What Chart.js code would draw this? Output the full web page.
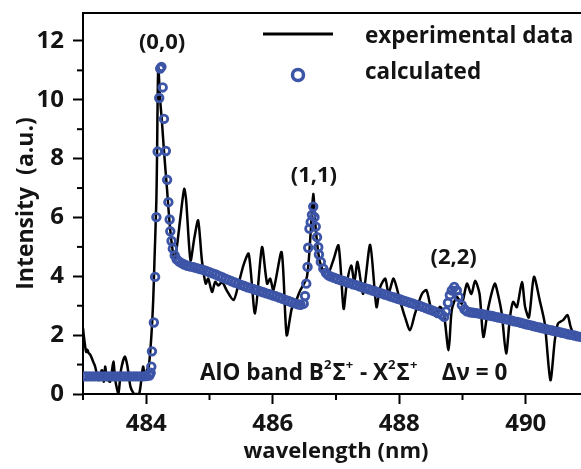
<!DOCTYPE html>
<html>
<head>
<meta charset="utf-8">
<script src="https://cdn.jsdelivr.net/npm/chart.js@4.4.1/dist/chart.umd.min.js"></script>
<style>
  html, body { margin: 0; padding: 0; background: #fff; overflow: hidden; }
  #wrap { position: relative; width: 600px; height: 469px; }
</style>
</head>
<body>
<div id="wrap"><canvas id="spectrum" width="600" height="469"></canvas></div>
<script>
// experimental spectrum (black line)
const expWl = [
  483.00, 483.02, 483.05, 483.07, 483.09, 483.11, 483.13, 483.16, 483.19, 483.21,
  483.25, 483.27, 483.30, 483.33, 483.35, 483.38, 483.43, 483.48, 483.51, 483.56,
  483.60, 483.66, 483.70, 483.75, 483.80, 483.83, 483.89, 483.95, 483.98, 484.01,
  484.04, 484.08, 484.11, 484.13, 484.16, 484.17, 484.19, 484.22, 484.25, 484.28,
  484.33, 484.37, 484.41, 484.45, 484.49, 484.54, 484.60, 484.63, 484.70, 484.76,
  484.82, 484.88, 484.94, 484.98, 485.04, 485.09, 485.14, 485.20, 485.27, 485.38,
  485.46, 485.54, 485.62, 485.72, 485.83, 485.91, 485.96, 486.01, 486.14, 486.22,
  486.30, 486.35, 486.43, 486.54, 486.60, 486.64, 486.68, 486.74, 486.85, 486.95,
  487.04, 487.12, 487.17, 487.24, 487.29, 487.34, 487.43, 487.54, 487.64, 487.70,
  487.78, 487.83, 487.91, 488.01, 488.09, 488.17, 488.25, 488.36, 488.43, 488.51,
  488.59, 488.64, 488.70, 488.78, 488.83, 488.91, 488.99, 489.07, 489.14, 489.20,
  489.27, 489.33, 489.41, 489.51, 489.56, 489.62, 489.69, 489.75, 489.80, 489.86,
  489.94, 489.99, 490.05, 490.13, 490.22, 490.30, 490.39, 490.46, 490.51, 490.59,
  490.66, 490.71, 490.78, 490.86, 490.95
];
const expInt = [
  2.24, 1.85, 1.43, 1.50, 1.39, 1.35, 1.27, 1.10, 0.95, 0.76,
  0.47, 0.64, 0.81, 0.42, 0.93, 0.53, 0.42, 1.10, 0.47, 0.02,
  0.81, 1.27, 0.98, 0.25, 0.02, 0.00, 0.02, 0.93, 0.54, 0.81,
  0.93, 1.94, 3.19, 4.54, 6.58, 8.00, 11.10, 10.00, 9.20, 8.27,
  6.92, 5.79, 4.99, 4.54, 5.10, 6.00, 6.97, 6.60, 4.54, 5.30,
  5.90, 4.54, 3.75, 3.92, 3.47, 3.81, 3.69, 3.81, 3.53, 3.19,
  3.75, 4.40, 4.77, 2.74, 4.99, 3.75, 3.92, 3.53, 4.82, 2.00,
  2.90, 3.07, 3.50, 3.98, 5.50, 6.80, 5.60, 4.54, 3.98, 4.50,
  5.05, 2.90, 3.75, 4.37, 3.81, 4.49, 3.41, 5.07, 2.96, 3.64,
  3.92, 3.41, 3.92, 3.19, 2.62, 2.17, 2.74, 3.41, 3.53, 2.85,
  2.62, 2.96, 2.80, 1.49, 2.85, 3.30, 3.07, 3.75, 3.40, 3.85,
  3.40, 1.94, 2.96, 3.75, 3.40, 2.74, 1.38, 2.60, 3.13, 2.95,
  3.81, 2.96, 2.60, 3.98, 3.19, 2.40, 0.47, 1.83, 2.40, 2.51,
  2.68, 2.28, 1.94, 2.00, 2.10
];

// calculated spectrum (open circles)
const calcWl = [
  // baseline
  483.00, 483.05, 483.10, 483.15, 483.20, 483.25, 483.30, 483.35, 483.40, 483.45, 483.50,
  483.55, 483.60, 483.65, 483.70, 483.75, 483.80, 483.85, 483.90, 483.95, 484.00, 484.05,
  // (0,0)
  484.07, 484.08, 484.09, 484.12, 484.14, 484.16, 484.18, 484.205, 484.22, 484.24,
  484.26, 484.28, 484.31, 484.33, 484.35, 484.37, 484.38, 484.40, 484.42, 484.45,
  484.48, 484.52, 484.56, 484.60, 484.65, 484.70,
  // tail
  484.75, 484.80, 484.85, 484.90, 484.95, 485.00, 485.05, 485.10, 485.15, 485.20,
  485.25, 485.30, 485.35, 485.40, 485.45, 485.50, 485.55, 485.60, 485.65, 485.70,
  485.75, 485.80, 485.85, 485.90, 485.95, 486.00, 486.05, 486.10, 486.15, 486.20,
  486.25, 486.30, 486.35, 486.40, 486.44,
  // (1,1)
  486.49, 486.51, 486.53, 486.55, 486.56, 486.58, 486.60, 486.62, 486.64, 486.66,
  486.68, 486.70, 486.72, 486.73, 486.76, 486.80, 486.84, 486.88,
  // tail
  486.92, 486.97, 487.02, 487.07, 487.12, 487.17, 487.22, 487.27, 487.32, 487.37,
  487.42, 487.47, 487.52, 487.57, 487.62, 487.67, 487.72, 487.77, 487.82, 487.87,
  487.92, 487.97, 488.02, 488.07, 488.12, 488.17, 488.22, 488.27, 488.32, 488.37,
  488.42, 488.47, 488.52, 488.57, 488.62, 488.67, 488.71,
  // (2,2)
  488.74, 488.77, 488.80, 488.83, 488.87, 488.91, 488.94, 488.99, 489.03, 489.07,
  // tail
  489.12, 489.17, 489.22, 489.27, 489.32, 489.37, 489.42, 489.47, 489.52, 489.57,
  489.62, 489.67, 489.72, 489.77, 489.82, 489.87, 489.92, 489.97, 490.02, 490.07,
  490.12, 490.17, 490.22, 490.27, 490.32, 490.37, 490.42, 490.47, 490.52, 490.57,
  490.62, 490.67, 490.72, 490.77, 490.82, 490.87, 490.92, 490.97
];
const calcInt = [
  0.60, 0.60, 0.60, 0.60, 0.60, 0.60, 0.60, 0.60, 0.60, 0.60, 0.60,
  0.60, 0.60, 0.60, 0.60, 0.60, 0.60, 0.60, 0.60, 0.60, 0.61, 0.63,
  0.72, 0.93, 1.45, 2.43, 3.98, 6.01, 8.24, 10.06, 11.06, 11.12,
  10.42, 9.35, 8.26, 7.28, 6.52, 5.93, 5.53, 5.20, 4.94, 4.71,
  4.58, 4.50, 4.45, 4.40, 4.36, 4.33,
  4.31, 4.28, 4.25, 4.22, 4.18, 4.14, 4.10, 4.06, 4.01, 3.97,
  3.92, 3.88, 3.83, 3.79, 3.75, 3.71, 3.67, 3.63, 3.60, 3.56,
  3.53, 3.49, 3.46, 3.42, 3.39, 3.35, 3.32, 3.28, 3.24, 3.20,
  3.16, 3.12, 3.08, 3.05, 3.03,
  3.07, 3.33, 3.75, 4.32, 4.97, 5.62, 5.84, 6.09, 6.37, 6.01,
  5.69, 5.33, 4.99, 4.74, 4.49, 4.26, 4.12, 4.03,
  3.99, 3.95, 3.91, 3.87, 3.84, 3.80, 3.77, 3.73, 3.70, 3.66,
  3.63, 3.59, 3.56, 3.52, 3.49, 3.45, 3.42, 3.38, 3.35, 3.31,
  3.28, 3.24, 3.21, 3.17, 3.14, 3.10, 3.07, 3.03, 3.00, 2.96,
  2.92, 2.88, 2.84, 2.80, 2.75, 2.70, 2.62,
  2.80, 3.10, 3.36, 3.52, 3.64, 3.52, 3.30, 3.02, 2.88, 2.81,
  2.78, 2.76, 2.75, 2.73, 2.71, 2.69, 2.67, 2.65, 2.62, 2.60,
  2.58, 2.55, 2.53, 2.50, 2.47, 2.45, 2.42, 2.39, 2.36, 2.34,
  2.31, 2.28, 2.26, 2.23, 2.21, 2.18, 2.16, 2.13, 2.11, 2.08,
  2.06, 2.03, 2.01, 1.99, 1.96, 1.94, 1.92, 1.90
];

// axes
const xTicks = [484, 486, 488, 490];
const xMinorTicks = [483, 485, 487, 489, 491];
const yTicks = [0, 2, 4, 6, 8, 10, 12];
const yMinorTicks = [1, 3, 5, 7, 9, 11];

const FONT = "'Open Sans', 'DejaVu Sans', sans-serif";
const BLUE = '#3d55a7';
const INK = '#141414';

// extra drawing: top frame, minor ticks, band labels, legend, caption
const extras = {
  id: 'extras',
  afterDraw(chart) {
    const { ctx, chartArea: area, scales: { x, y } } = chart;
    ctx.save();
    ctx.fillStyle = '#000';
    ctx.fillRect(area.left - 1, area.top - 1, 600 - area.left, 2);
    xMinorTicks.forEach(v => {
      const px = x.getPixelForValue(v);
      ctx.fillRect(px - 1, area.bottom, 2, 6);
    });
    yMinorTicks.forEach(v => {
      const py = y.getPixelForValue(v);
      ctx.fillRect(area.left - 6, py - 1, 6, 2);
    });

    // vibrational band labels
    ctx.fillStyle = INK;
    ctx.font = 'bold 22px ' + FONT;
    ctx.textAlign = 'center';
    ctx.textBaseline = 'middle';
    ctx.fillText('(0,0)', x.getPixelForValue(484.25), y.getPixelForValue(11.95));
    ctx.fillText('(1,1)', x.getPixelForValue(486.65), y.getPixelForValue(7.41));
    ctx.fillText('(2,2)', x.getPixelForValue(488.86), y.getPixelForValue(4.62));

    // caption with superscripts
    const parts = [
      ['AlO band B', false], ['2', true], ['\u03A3', false], ['+', true],
      [' - X', false], ['2', true], ['\u03A3', false], ['+', true],
      ['    \u0394\u03BD = 0', false]
    ];
    let cx = x.getPixelForValue(484.85);
    const cy = y.getPixelForValue(0.47);
    ctx.textAlign = 'left';
    ctx.textBaseline = 'alphabetic';
    parts.forEach(([t, sup]) => {
      ctx.font = sup ? 'bold 13px ' + FONT : 'bold 22.5px ' + FONT;
      ctx.fillText(t, cx, sup ? cy - 11 : cy);
      cx += ctx.measureText(t).width + (sup ? 1 : 0);
    });

    // legend
    ctx.strokeStyle = '#000';
    ctx.lineWidth = 3;
    ctx.beginPath();
    ctx.moveTo(263, 34);
    ctx.lineTo(333, 34);
    ctx.stroke();
    ctx.strokeStyle = BLUE;
    ctx.lineWidth = 3.5;
    ctx.beginPath();
    ctx.arc(298, 75, 5.5, 0, Math.PI * 2);
    ctx.stroke();
    ctx.font = 'bold 22.5px ' + FONT;
    ctx.textBaseline = 'middle';
    ctx.fillText('experimental data', 365, 37);
    ctx.fillText('calculated', 365, 73);
    ctx.restore();
  }
};

const calcPoints = calcWl.map((w, i) => ({ x: w, y: calcInt[i] }));
const expPoints = expWl.map((w, i) => ({ x: w, y: expInt[i] }));

new Chart(document.getElementById('spectrum'), {
  type: 'scatter',
  data: {
    datasets: [
      {
        label: 'calculated',
        data: calcPoints,
        order: 0,
        showLine: false,
        pointStyle: 'circle',
        pointRadius: 3.8,
        pointBorderWidth: 2.8,
        pointBorderColor: BLUE,
        pointBackgroundColor: 'rgba(255,255,255,0)'
      },
      {
        label: 'experimental data',
        data: expPoints,
        order: 1,
        showLine: true,
        borderColor: '#000',
        borderWidth: 2.5,
        pointRadius: 0,
        tension: 0.25
      }
    ]
  },
  plugins: [extras],
  options: {
    responsive: false,
    animation: false,
    devicePixelRatio: 1,
    layout: { padding: { top: 13, right: 11, left: 0, bottom: 0 } },
    plugins: { legend: { display: false }, tooltip: { enabled: false } },
    scales: {
      x: {
        type: 'linear',
        min: 483,
        max: 491,
        afterBuildTicks: s => { s.ticks = xTicks.map(v => ({ value: v })); },
        afterFit: s => { s.height = 75; s.paddingLeft = 0; s.paddingRight = 0; },
        border: { color: '#000', width: 2 },
        grid: { drawOnChartArea: false, tickLength: 10, tickWidth: 2, tickColor: '#000' },
        ticks: { color: INK, padding: 6, maxRotation: 0, font: { family: FONT, size: 24, weight: 'bold' } },
        title: { display: true, text: 'wavelength (nm)', color: INK, padding: { top: 0, bottom: 4 }, font: { family: FONT, size: 22, weight: 'bold' } }
      },
      y: {
        min: 0,
        max: 12.95,
        afterBuildTicks: s => { s.ticks = yTicks.map(v => ({ value: v })); },
        afterFit: s => { s.width = 83; s.paddingTop = 0; s.paddingBottom = 0; },
        border: { color: '#000', width: 2 },
        grid: { drawOnChartArea: false, tickLength: 10, tickWidth: 2, tickColor: '#000' },
        ticks: { color: INK, padding: 9, font: { family: FONT, size: 24, weight: 'bold' } },
        title: { display: true, text: 'Intensity  (a.u.)', color: INK, padding: { top: 13, bottom: 0 }, font: { family: FONT, size: 23, weight: 'bold' } }
      }
    }
  }
});
</script>
</body>
</html>
